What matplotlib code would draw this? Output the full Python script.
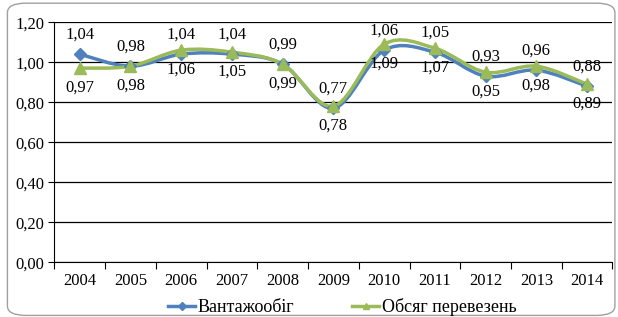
import numpy as np
import matplotlib.pyplot as plt
from matplotlib.path import Path
from matplotlib.patches import PathPatch, FancyBboxPatch
from matplotlib.lines import Line2D

years = ['2004', '2005', '2006', '2007', '2008', '2009', '2010', '2011', '2012', '2013', '2014']
vantazhoobig = [1.04, 0.98, 1.04, 1.04, 0.99, 0.77, 1.06, 1.05, 0.93, 0.96, 0.88]
obsyag = [0.97, 0.98, 1.06, 1.05, 0.99, 0.78, 1.09, 1.07, 0.95, 0.98, 0.89]

blue = '#4F81BD'
green = '#9BBB59'

plt.rcParams['font.family'] = 'serif'
plt.rcParams['font.serif'] = ['Liberation Serif', 'DejaVu Serif']
FONT = 'Liberation Serif'


def smooth_path(x, y):
    # Excel-like smoothed line: cubic Bezier through the points (Catmull-Rom)
    x = np.asarray(x, float)
    y = np.asarray(y, float)
    verts = [(x[0], y[0])]
    codes = [Path.MOVETO]
    n = len(x)
    for i in range(n - 1):
        p0 = i - 1 if i > 0 else i
        p3 = i + 2 if i + 2 < n else i + 1
        c1 = (x[i] + (x[i + 1] - x[p0]) / 6, y[i] + (y[i + 1] - y[p0]) / 6)
        c2 = (x[i + 1] - (x[p3] - x[i]) / 6, y[i + 1] - (y[p3] - y[i]) / 6)
        verts += [c1, c2, (x[i + 1], y[i + 1])]
        codes += [Path.CURVE4] * 3
    return Path(verts, codes)


fig = plt.figure(figsize=(6.18, 3.17), dpi=100)
ax = fig.add_axes([0.088, 0.173, 0.903, 0.757])

xs = np.arange(len(years))
for vals, col, mk, ms in [(vantazhoobig, blue, 'D', 6), (obsyag, green, '^', 8)]:
    ax.add_patch(PathPatch(smooth_path(xs, vals), facecolor='none', edgecolor=col,
                           lw=2.5, zorder=3, capstyle='round'))
    ax.plot(xs, vals, linestyle='none', marker=mk, color=col, markersize=ms, zorder=4)

for i, v in enumerate(vantazhoobig):
    ax.annotate(f'{v:.2f}'.replace('.', ','), (xs[i], v), xytext=(0, 14),
                textcoords='offset points', ha='center', va='center',
                fontsize=12, family=FONT)
for i, v in enumerate(obsyag):
    ax.annotate(f'{v:.2f}'.replace('.', ','), (xs[i], v), xytext=(0, -14),
                textcoords='offset points', ha='center', va='center',
                fontsize=12, family=FONT)

ax.set_xlim(-0.5, len(years) - 0.5)
ax.set_ylim(0, 1.2)
yt = np.arange(0, 1.21, 0.2)
ax.set_yticks(yt)
ax.set_yticklabels([f'{t:.2f}'.replace('.', ',') for t in yt], fontsize=12, family=FONT)
ax.set_xticks(xs)
ax.set_xticklabels(years, fontsize=12, family=FONT)
ax.set_xticks(np.arange(-0.5, len(years)), minor=True)
ax.tick_params(axis='x', which='major', length=0, pad=8)
ax.tick_params(axis='x', which='minor', length=5, width=0.8)
ax.tick_params(axis='y', length=4, width=0.8, pad=3)
ax.grid(axis='y', color='black', lw=0.9)
ax.set_axisbelow(True)
for s in ['top', 'right']:
    ax.spines[s].set_visible(False)
ax.spines['left'].set_linewidth(0.8)
ax.spines['bottom'].set_linewidth(0.8)

handles = [Line2D([], [], color=blue, lw=2.5, marker='D', markersize=4),
           Line2D([], [], color=green, lw=2.5, marker='^', markersize=5)]
fig.legend(handles, ['Вантажообіг', 'Обсяг перевезень'], loc='center',
           bbox_to_anchor=(0.554, 0.032), ncol=2, frameon=False,
           prop={'family': FONT, 'size': 13}, borderpad=0, borderaxespad=0,
           handlelength=1.5, handletextpad=0.15, columnspacing=3.2)

fig.patches.append(FancyBboxPatch((0.012, 0.005), 0.983, 0.985,
                                  boxstyle='round,pad=0,rounding_size=0.03',
                                  transform=fig.transFigure, facecolor='none',
                                  edgecolor='#A0A0A0', lw=1))

plt.savefig('out.png', dpi=100)
